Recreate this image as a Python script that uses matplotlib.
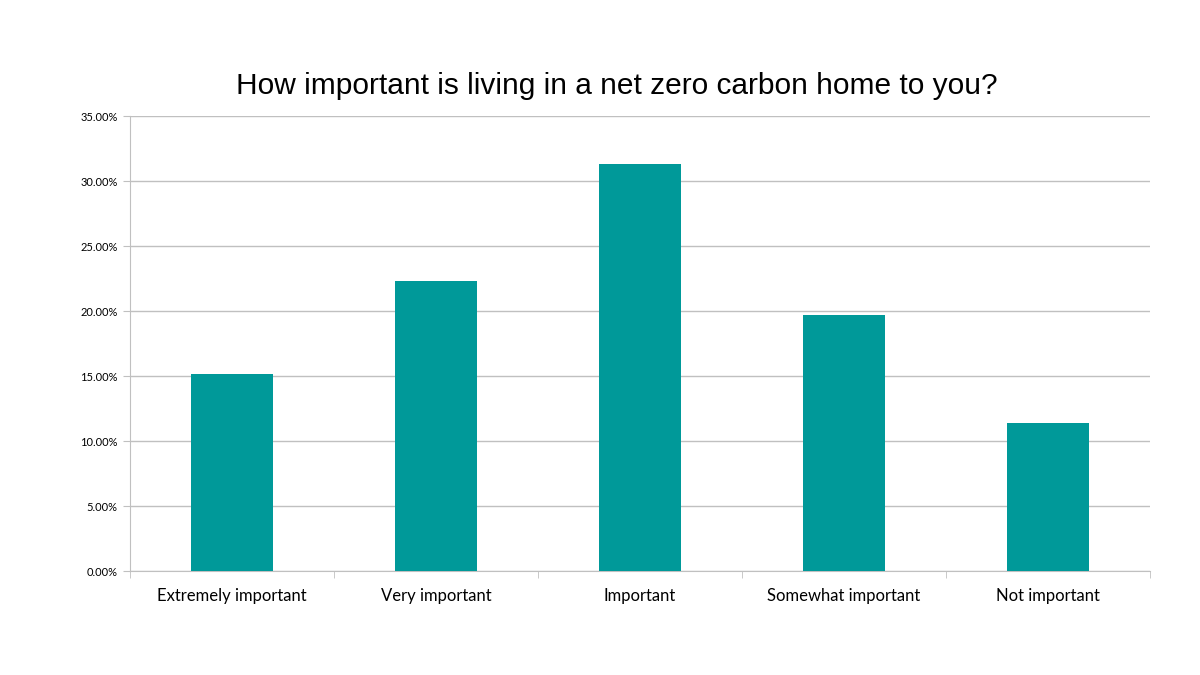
import matplotlib.pyplot as plt
import numpy as np
from matplotlib.ticker import FuncFormatter, FixedLocator

categories = ["Extremely important", "Very important", "Important",
              "Somewhat important", "Not important"]
shares = [15.15, 22.3, 31.3, 19.7, 11.4]
y_ticks = [0, 5, 10, 15, 20, 25, 30, 35]

fig = plt.figure(figsize=(12, 6.75), dpi=100)
ax = fig.add_axes([0.1083, 0.154, 0.85, 0.674])

x = np.arange(len(categories))
ax.bar(x, shares, width=0.4, color="#009999", zorder=3)

ax.set_xlim(-0.5, len(categories) - 0.5)
ax.set_ylim(0, 35)
ax.set_yticks(y_ticks)
ax.yaxis.set_major_formatter(FuncFormatter(lambda v, p: f"{v:.2f}%"))
ax.grid(axis="y", color="#c0c0c0", linewidth=1, zorder=0)

ax.set_xticks(x)
ax.set_xticklabels(categories, fontsize=12, family=["Lato", "DejaVu Sans"])
ax.xaxis.set_minor_locator(FixedLocator(np.arange(-0.5, len(categories), 1.0)))
ax.tick_params(axis="x", which="major", length=0, pad=12)
ax.tick_params(axis="x", which="minor", length=5, color="#c0c0c0")
ax.tick_params(axis="y", length=5, color="#c0c0c0", labelsize=8, pad=4)
for lab in ax.get_yticklabels():
    lab.set_family(["Lato", "DejaVu Sans"])

for side in ["top", "right"]:
    ax.spines[side].set_visible(False)
for side in ["left", "bottom"]:
    ax.spines[side].set_color("#c0c0c0")

fig.text(0.514, 0.872, "How important is living in a net zero carbon home to you?",
         ha="center", va="center", fontsize=21.5, family=["Liberation Sans", "DejaVu Sans"])

fig.savefig("out.png", dpi=100)
